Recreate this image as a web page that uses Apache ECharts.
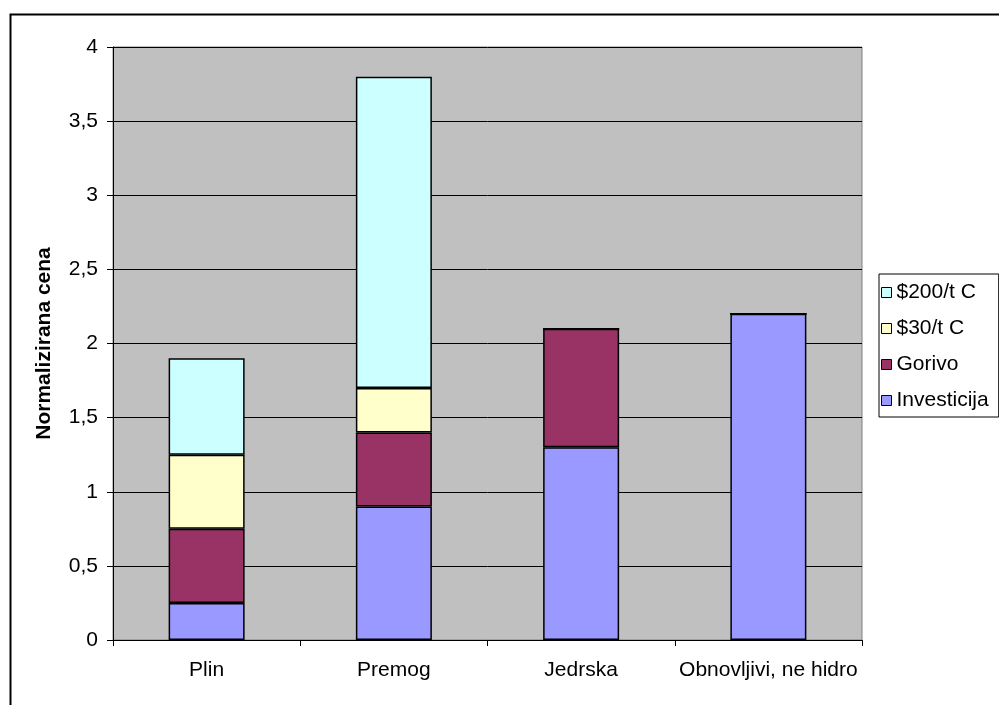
<!DOCTYPE html>
<html>
<head>
<meta charset="utf-8">
<script src="https://cdn.jsdelivr.net/npm/echarts@6/dist/echarts.min.js"></script>
<style>
html,body{margin:0;padding:0;background:#fff;}
#c{width:999px;height:705px;}
</style>
</head>
<body>
<div id="c"></div>
<script>
var categories = ['Plin', 'Premog', 'Jedrska', 'Obnovljivi, ne hidro'];
var investicija = [0.25, 0.9, 1.3, 2.2];
var gorivo = [0.5, 0.5, 0.8, 0];
var c30 = [0.5, 0.3, 0, 0];
var c200 = [0.65, 2.1, 0, 0];
var yTicks = [0, 0.5, 1, 1.5, 2, 2.5, 3, 3.5, 4];

var chart = echarts.init(document.getElementById('c'), null, {renderer: 'canvas'});
var font = 'Liberation Sans, Arial, sans-serif';
function mk(name, data, color) {
  return {
    name: name, type: 'bar', stack: 'a', data: data, barWidth: 76,
    itemStyle: {color: color, borderColor: '#000', borderWidth: 1.5},
    emphasis: {disabled: true}
  };
}
chart.setOption({
  animation: false,
  backgroundColor: '#fff',
  textStyle: {fontFamily: font},
  graphic: [{
    type: 'rect', left: 8, top: 12, shape: {width: 1100, height: 800},
    style: {fill: 'none', stroke: '#000', lineWidth: 2}, z: -1
  }],
  grid: {left: 113, top: 47, width: 749, height: 593, show: true,
    backgroundColor: '#c0c0c0', borderColor: '#808080', borderWidth: 1},
  legend: {
    orient: 'vertical', left: 879, top: 274,
    data: ['$200/t C', '$30/t C', 'Gorivo', 'Investicija'],
    backgroundColor: '#fff', borderColor: '#000', borderWidth: 1,
    padding: [8, 10, 6, 2],
    itemWidth: 10, itemHeight: 10, itemGap: 15,
    icon: 'rect',
    itemStyle: {borderColor: '#000', borderWidth: 1},
    textStyle: {fontFamily: font, fontSize: 21, lineHeight: 20, color: '#000'},
    selectedMode: false
  },
  xAxis: {
    type: 'category', data: categories,
    axisLine: {lineStyle: {color: '#000', width: 1}},
    axisTick: {show: true, length: 6, lineStyle: {color: '#000'}},
    axisLabel: {fontFamily: font, fontSize: 21, color: '#000', margin: 20, interval: 0}
  },
  yAxis: {
    type: 'value', min: 0, max: 4, interval: 0.5,
    name: 'Normalizirana cena', nameLocation: 'middle', nameGap: 58,
    nameTextStyle: {fontFamily: font, fontSize: 21, fontWeight: 'bold', color: '#000'},
    axisLine: {show: true, lineStyle: {color: '#000', width: 1}},
    axisTick: {show: true, length: 6, lineStyle: {color: '#000'}},
    splitLine: {lineStyle: {color: '#000', width: 1}},
    axisLabel: {fontFamily: font, fontSize: 21, color: '#000', margin: 15,
      formatter: function (v) { return String(v).replace('.', ','); }}
  },
  series: [
    mk('Investicija', investicija, '#9999ff'),
    mk('Gorivo', gorivo, '#993366'),
    mk('$30/t C', c30, '#ffffcc'),
    mk('$200/t C', c200, '#ccffff')
  ]
});
</script>
</body>
</html>
